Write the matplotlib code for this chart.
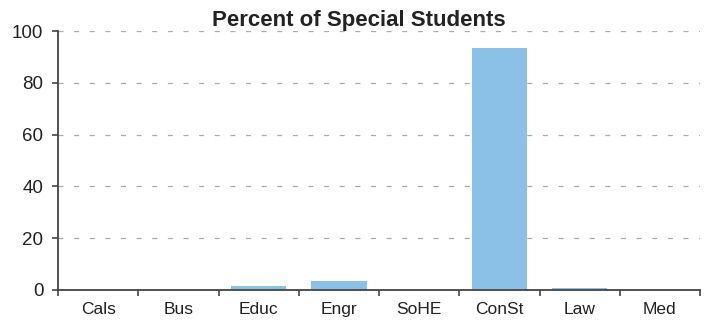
import matplotlib
matplotlib.use("Agg")
import matplotlib.pyplot as plt
import numpy as np

categories = ["Cals", "Bus", "Educ", "Engr", "SoHE", "ConSt", "Law", "Med"]
values = [0.0, 0.0, 1.5, 3.6, 0.0, 93.5, 0.6, 0.0]
yticks = [0, 20, 40, 60, 80, 100]

plt.rcParams['font.family'] = ['Liberation Sans', 'DejaVu Sans']

fig = plt.figure(figsize=(7.1, 3.24), dpi=100)
ax = fig.add_axes([0.0817, 0.105, 0.9043, 0.799])

x = np.arange(len(categories))
ax.bar(x, values, width=0.69, color="#8BC1E6", zorder=2)

ax.set_xlim(-0.5, len(categories) - 0.5)
ax.set_ylim(0, 100)
ax.set_yticks(yticks)
ax.set_yticklabels([str(t) for t in yticks], fontsize=13.5, color="#222222")
ax.yaxis.grid(True, linestyle=(0, (4, 8.5)), color="#aaaaaa", linewidth=0.9, zorder=0)

ax.set_xticks(x)
ax.set_xticklabels(categories, fontsize=12.5, color="#222222")
ax.tick_params(axis='x', length=0, pad=9)
ax.set_xticks(np.arange(-0.5, len(categories) + 0.5, 1), minor=True)
ax.tick_params(axis='x', which='minor', length=4.5, width=1.2, color="#444444")
ax.tick_params(axis='y', length=4.5, width=1.2, color="#444444", pad=6)

for s in ['top', 'right']:
    ax.spines[s].set_visible(False)
for s in ['left', 'bottom']:
    ax.spines[s].set_color("#444444")
    ax.spines[s].set_linewidth(1.3)

ax.set_title("Percent of Special Students", fontsize=16, fontweight='bold',
             color="#222222", pad=2.5, x=0.469)

fig.savefig("out.png", dpi=100)
